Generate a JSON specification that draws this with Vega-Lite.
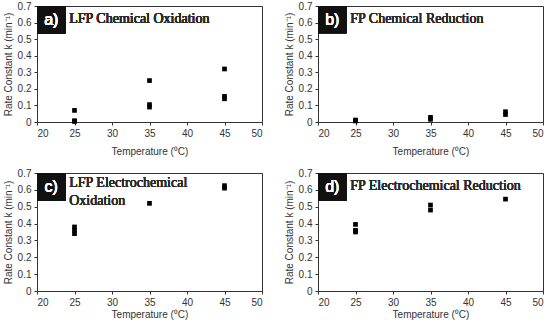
{
  "$schema": "https://vega.github.io/schema/vega-lite/v6.json",
  "padding": {"left": 2, "top": 0, "right": 5, "bottom": 0},
  "background": "white",
  "datasets": {
    "pts": [
      {"panel": "a", "temperature": 25, "k": 0.07},
      {"panel": "a", "temperature": 25, "k": 0.008},
      {"panel": "a", "temperature": 25, "k": 0.003},
      {"panel": "a", "temperature": 35, "k": 0.25},
      {"panel": "a", "temperature": 35, "k": 0.105},
      {"panel": "a", "temperature": 35, "k": 0.09},
      {"panel": "a", "temperature": 45, "k": 0.32},
      {"panel": "a", "temperature": 45, "k": 0.155},
      {"panel": "a", "temperature": 45, "k": 0.14},
      {"panel": "b", "temperature": 25, "k": 0.012},
      {"panel": "b", "temperature": 25, "k": 0.006},
      {"panel": "b", "temperature": 35, "k": 0.028},
      {"panel": "b", "temperature": 35, "k": 0.016},
      {"panel": "b", "temperature": 45, "k": 0.062},
      {"panel": "b", "temperature": 45, "k": 0.045},
      {"panel": "c", "temperature": 25, "k": 0.38},
      {"panel": "c", "temperature": 25, "k": 0.36},
      {"panel": "c", "temperature": 25, "k": 0.34},
      {"panel": "c", "temperature": 35, "k": 0.52},
      {"panel": "c", "temperature": 45, "k": 0.625},
      {"panel": "c", "temperature": 45, "k": 0.61},
      {"panel": "d", "temperature": 25, "k": 0.395},
      {"panel": "d", "temperature": 25, "k": 0.36},
      {"panel": "d", "temperature": 25, "k": 0.35},
      {"panel": "d", "temperature": 35, "k": 0.51},
      {"panel": "d", "temperature": 35, "k": 0.48},
      {"panel": "d", "temperature": 45, "k": 0.545}
    ]
  },
  "config": {
    "view": {"stroke": "#333", "strokeWidth": 1},
    "font": "Liberation Sans",
    "axis": {
      "grid": false,
      "labelFont": "Liberation Sans",
      "titleFont": "Liberation Sans",
      "labelFontSize": 10,
      "titleFontSize": 10,
      "labelColor": "#333",
      "titleColor": "#333",
      "titleFontWeight": "normal",
      "domainColor": "#333",
      "tickColor": "#333",
      "tickSize": 3,
      "labelPadding": 3,
      "labelOverlap": false
    }
  },
  "spacing": 10,
  "vconcat": [
    {
      "spacing": 20,
      "hconcat": [
        {
          "width": 225, "height": 116,
          "data": {"name": "pts"},
          "transform": [{"filter": "datum.panel === 'a'"}],
          "layer": [
            {
              "mark": {"type": "square", "filled": true, "size": 22, "color": "#000", "opacity": 1},
              "encoding": {
                "x": {"field": "temperature", "type": "quantitative", "scale": {"domain": [20, 50], "nice": false}, "axis": {"values": [20,25,30,35,40,45,50], "title": "Temperature (⁰C)", "titlePadding": 8}},
                "y": {"field": "k", "type": "quantitative", "scale": {"domain": [0, 0.7], "nice": false}, "axis": {"values": [0,0.1,0.2,0.3,0.4,0.5,0.6,0.7], "format": "~g", "title": "Rate Constant k (min⁻¹)", "titlePadding": 4}}
              }
            },
            {
              "mark": {"type": "rect", "color": "#111"},
              "encoding": {
                "x": {"datum": 20, "type": "quantitative", "scale": {"domain": [20, 50], "nice": false}, "axis": {"values": [20,25,30,35,40,45,50], "title": "Temperature (⁰C)", "titlePadding": 8}},
                "x2": {"datum": 23.8},
                "y": {"datum": 0.7, "type": "quantitative", "scale": {"domain": [0, 0.7], "nice": false}, "axis": {"values": [0,0.1,0.2,0.3,0.4,0.5,0.6,0.7], "format": "~g", "title": "Rate Constant k (min⁻¹)", "titlePadding": 4}},
                "y2": {"datum": 0.535}
              }
            },
            {
              "mark": {"type": "text", "color": "white", "font": "Liberation Sans", "fontWeight": "normal", "fontSize": 16, "align": "center", "baseline": "middle", "text": "a)"},
              "encoding": {
                "x": {"datum": 21.9, "type": "quantitative", "scale": {"domain": [20, 50], "nice": false}, "axis": {"values": [20,25,30,35,40,45,50], "title": "Temperature (⁰C)", "titlePadding": 8}},
                "y": {"datum": 0.615, "type": "quantitative", "scale": {"domain": [0, 0.7], "nice": false}, "axis": {"values": [0,0.1,0.2,0.3,0.4,0.5,0.6,0.7], "format": "~g", "title": "Rate Constant k (min⁻¹)", "titlePadding": 4}}
              }
            },
            {
              "mark": {"type": "text", "color": "#2a2a2a", "font": "Liberation Serif", "fontWeight": "normal", "fontSize": 14, "align": "left", "baseline": "alphabetic", "text": "LFP Chemical Oxidation"},
              "encoding": {
                "x": {"datum": 24.3, "type": "quantitative", "scale": {"domain": [20, 50], "nice": false}, "axis": {"values": [20,25,30,35,40,45,50], "title": "Temperature (⁰C)", "titlePadding": 8}},
                "y": {"datum": 0.6, "type": "quantitative", "scale": {"domain": [0, 0.7], "nice": false}, "axis": {"values": [0,0.1,0.2,0.3,0.4,0.5,0.6,0.7], "format": "~g", "title": "Rate Constant k (min⁻¹)", "titlePadding": 4}}
              }
            }
          ]
        },
        {
          "width": 225, "height": 116,
          "data": {"name": "pts"},
          "transform": [{"filter": "datum.panel === 'b'"}],
          "layer": [
            {
              "mark": {"type": "square", "filled": true, "size": 22, "color": "#000", "opacity": 1},
              "encoding": {
                "x": {"field": "temperature", "type": "quantitative", "scale": {"domain": [20, 50], "nice": false}, "axis": {"values": [20,25,30,35,40,45,50], "title": "Temperature (⁰C)", "titlePadding": 8}},
                "y": {"field": "k", "type": "quantitative", "scale": {"domain": [0, 0.7], "nice": false}, "axis": {"values": [0,0.1,0.2,0.3,0.4,0.5,0.6,0.7], "format": "~g", "title": "Rate Constant k (min⁻¹)", "titlePadding": 4}}
              }
            },
            {
              "mark": {"type": "rect", "color": "#111"},
              "encoding": {
                "x": {"datum": 20, "type": "quantitative", "scale": {"domain": [20, 50], "nice": false}, "axis": {"values": [20,25,30,35,40,45,50], "title": "Temperature (⁰C)", "titlePadding": 8}},
                "x2": {"datum": 23.8},
                "y": {"datum": 0.7, "type": "quantitative", "scale": {"domain": [0, 0.7], "nice": false}, "axis": {"values": [0,0.1,0.2,0.3,0.4,0.5,0.6,0.7], "format": "~g", "title": "Rate Constant k (min⁻¹)", "titlePadding": 4}},
                "y2": {"datum": 0.535}
              }
            },
            {
              "mark": {"type": "text", "color": "white", "font": "Liberation Sans", "fontWeight": "normal", "fontSize": 16, "align": "center", "baseline": "middle", "text": "b)"},
              "encoding": {
                "x": {"datum": 21.9, "type": "quantitative", "scale": {"domain": [20, 50], "nice": false}, "axis": {"values": [20,25,30,35,40,45,50], "title": "Temperature (⁰C)", "titlePadding": 8}},
                "y": {"datum": 0.615, "type": "quantitative", "scale": {"domain": [0, 0.7], "nice": false}, "axis": {"values": [0,0.1,0.2,0.3,0.4,0.5,0.6,0.7], "format": "~g", "title": "Rate Constant k (min⁻¹)", "titlePadding": 4}}
              }
            },
            {
              "mark": {"type": "text", "color": "#2a2a2a", "font": "Liberation Serif", "fontWeight": "normal", "fontSize": 14, "align": "left", "baseline": "alphabetic", "text": "FP Chemical Reduction"},
              "encoding": {
                "x": {"datum": 24.3, "type": "quantitative", "scale": {"domain": [20, 50], "nice": false}, "axis": {"values": [20,25,30,35,40,45,50], "title": "Temperature (⁰C)", "titlePadding": 8}},
                "y": {"datum": 0.6, "type": "quantitative", "scale": {"domain": [0, 0.7], "nice": false}, "axis": {"values": [0,0.1,0.2,0.3,0.4,0.5,0.6,0.7], "format": "~g", "title": "Rate Constant k (min⁻¹)", "titlePadding": 4}}
              }
            }
          ]
        }
      ]
    },
    {
      "spacing": 20,
      "hconcat": [
        {
          "width": 225, "height": 118,
          "data": {"name": "pts"},
          "transform": [{"filter": "datum.panel === 'c'"}],
          "layer": [
            {
              "mark": {"type": "square", "filled": true, "size": 22, "color": "#000", "opacity": 1},
              "encoding": {
                "x": {"field": "temperature", "type": "quantitative", "scale": {"domain": [20, 50], "nice": false}, "axis": {"values": [20,25,30,35,40,45,50], "title": "Temperature (⁰C)", "titlePadding": 2}},
                "y": {"field": "k", "type": "quantitative", "scale": {"domain": [0, 0.7], "nice": false}, "axis": {"values": [0,0.1,0.2,0.3,0.4,0.5,0.6,0.7], "format": "~g", "title": "Rate Constant k (min⁻¹)", "titlePadding": 4}}
              }
            },
            {
              "mark": {"type": "rect", "color": "#111"},
              "encoding": {
                "x": {"datum": 20, "type": "quantitative", "scale": {"domain": [20, 50], "nice": false}, "axis": {"values": [20,25,30,35,40,45,50], "title": "Temperature (⁰C)", "titlePadding": 2}},
                "x2": {"datum": 23.8},
                "y": {"datum": 0.7, "type": "quantitative", "scale": {"domain": [0, 0.7], "nice": false}, "axis": {"values": [0,0.1,0.2,0.3,0.4,0.5,0.6,0.7], "format": "~g", "title": "Rate Constant k (min⁻¹)", "titlePadding": 4}},
                "y2": {"datum": 0.535}
              }
            },
            {
              "mark": {"type": "text", "color": "white", "font": "Liberation Sans", "fontWeight": "normal", "fontSize": 16, "align": "center", "baseline": "middle", "text": "c)"},
              "encoding": {
                "x": {"datum": 21.9, "type": "quantitative", "scale": {"domain": [20, 50], "nice": false}, "axis": {"values": [20,25,30,35,40,45,50], "title": "Temperature (⁰C)", "titlePadding": 2}},
                "y": {"datum": 0.615, "type": "quantitative", "scale": {"domain": [0, 0.7], "nice": false}, "axis": {"values": [0,0.1,0.2,0.3,0.4,0.5,0.6,0.7], "format": "~g", "title": "Rate Constant k (min⁻¹)", "titlePadding": 4}}
              }
            },
            {
              "mark": {"type": "text", "color": "#2a2a2a", "font": "Liberation Serif", "fontWeight": "normal", "fontSize": 14, "align": "left", "baseline": "alphabetic", "lineHeight": 18, "text": ["LFP Electrochemical", "Oxidation"]},
              "encoding": {
                "x": {"datum": 24.3, "type": "quantitative", "scale": {"domain": [20, 50], "nice": false}, "axis": {"values": [20,25,30,35,40,45,50], "title": "Temperature (⁰C)", "titlePadding": 2}},
                "y": {"datum": 0.615, "type": "quantitative", "scale": {"domain": [0, 0.7], "nice": false}, "axis": {"values": [0,0.1,0.2,0.3,0.4,0.5,0.6,0.7], "format": "~g", "title": "Rate Constant k (min⁻¹)", "titlePadding": 4}}
              }
            }
          ]
        },
        {
          "width": 225, "height": 118,
          "data": {"name": "pts"},
          "transform": [{"filter": "datum.panel === 'd'"}],
          "layer": [
            {
              "mark": {"type": "square", "filled": true, "size": 22, "color": "#000", "opacity": 1},
              "encoding": {
                "x": {"field": "temperature", "type": "quantitative", "scale": {"domain": [20, 50], "nice": false}, "axis": {"values": [20,25,30,35,40,45,50], "title": "Temperature (⁰C)", "titlePadding": 2}},
                "y": {"field": "k", "type": "quantitative", "scale": {"domain": [0, 0.7], "nice": false}, "axis": {"values": [0,0.1,0.2,0.3,0.4,0.5,0.6,0.7], "format": "~g", "title": "Rate Constant k (min⁻¹)", "titlePadding": 4}}
              }
            },
            {
              "mark": {"type": "rect", "color": "#111"},
              "encoding": {
                "x": {"datum": 20, "type": "quantitative", "scale": {"domain": [20, 50], "nice": false}, "axis": {"values": [20,25,30,35,40,45,50], "title": "Temperature (⁰C)", "titlePadding": 2}},
                "x2": {"datum": 23.8},
                "y": {"datum": 0.7, "type": "quantitative", "scale": {"domain": [0, 0.7], "nice": false}, "axis": {"values": [0,0.1,0.2,0.3,0.4,0.5,0.6,0.7], "format": "~g", "title": "Rate Constant k (min⁻¹)", "titlePadding": 4}},
                "y2": {"datum": 0.535}
              }
            },
            {
              "mark": {"type": "text", "color": "white", "font": "Liberation Sans", "fontWeight": "normal", "fontSize": 16, "align": "center", "baseline": "middle", "text": "d)"},
              "encoding": {
                "x": {"datum": 21.9, "type": "quantitative", "scale": {"domain": [20, 50], "nice": false}, "axis": {"values": [20,25,30,35,40,45,50], "title": "Temperature (⁰C)", "titlePadding": 2}},
                "y": {"datum": 0.615, "type": "quantitative", "scale": {"domain": [0, 0.7], "nice": false}, "axis": {"values": [0,0.1,0.2,0.3,0.4,0.5,0.6,0.7], "format": "~g", "title": "Rate Constant k (min⁻¹)", "titlePadding": 4}}
              }
            },
            {
              "mark": {"type": "text", "color": "#2a2a2a", "font": "Liberation Serif", "fontWeight": "normal", "fontSize": 14, "align": "left", "baseline": "alphabetic", "text": "FP Electrochemical Reduction"},
              "encoding": {
                "x": {"datum": 24.3, "type": "quantitative", "scale": {"domain": [20, 50], "nice": false}, "axis": {"values": [20,25,30,35,40,45,50], "title": "Temperature (⁰C)", "titlePadding": 2}},
                "y": {"datum": 0.6, "type": "quantitative", "scale": {"domain": [0, 0.7], "nice": false}, "axis": {"values": [0,0.1,0.2,0.3,0.4,0.5,0.6,0.7], "format": "~g", "title": "Rate Constant k (min⁻¹)", "titlePadding": 4}}
              }
            }
          ]
        }
      ]
    }
  ]
}
